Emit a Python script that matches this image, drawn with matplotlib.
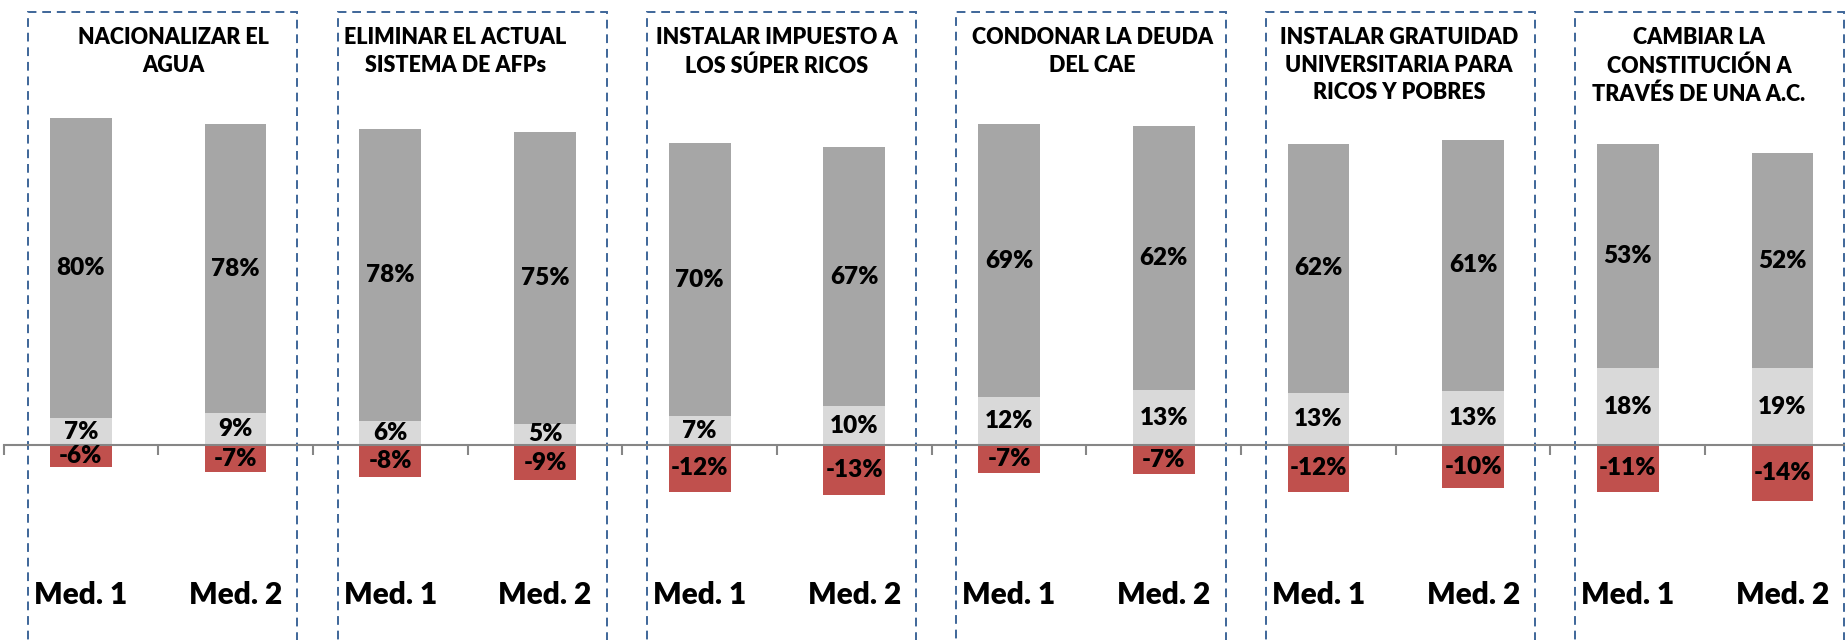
import matplotlib.pyplot as plt
from matplotlib.patches import Rectangle
import numpy as np

plt.rcParams['font.family'] = ['Lato', 'DejaVu Sans']

temas = ["NACIONALIZAR EL\nAGUA",
         "ELIMINAR EL ACTUAL\nSISTEMA DE AFPs",
         "INSTALAR IMPUESTO A\nLOS SÚPER RICOS",
         "CONDONAR LA DEUDA\nDEL CAE",
         "INSTALAR GRATUIDAD\nUNIVERSITARIA PARA\nRICOS Y POBRES",
         "CAMBIAR LA\nCONSTITUCIÓN A\nTRAVÉS DE UNA A.C."]
mediciones = ["Med. 1", "Med. 2"]

# valores mostrados en las etiquetas
acuerdo = [80, 78, 78, 75, 70, 67, 69, 62, 62, 61, 53, 52]
neutral = [7, 9, 6, 5, 7, 10, 12, 13, 13, 13, 18, 19]
desacuerdo = [-6, -7, -8, -9, -12, -13, -7, -7, -12, -10, -11, -14]

# alto de cada barra tal como se ve en el grafico original
acuerdo_alto = [80.0, 77.1, 77.9, 77.7, 72.8, 69.0, 72.8, 70.4, 66.4, 66.9, 59.8, 57.3]
neutral_alto = [7.1, 8.5, 6.4, 5.7, 7.7, 10.4, 12.7, 14.6, 13.9, 14.5, 20.5, 20.5]
desacuerdo_alto = [-5.8, -7.2, -8.4, -9.4, -12.4, -13.3, -7.4, -7.8, -12.4, -11.5, -12.5, -14.9]

c_acuerdo = "#a6a6a6"
c_neutral = "#d9d9d9"
c_desac = "#c0504d"
c_caja = "#3e6699"

W, H = 1845, 640
fig = plt.figure(figsize=(W / 100, H / 100), dpi=100)
ax = fig.add_axes([3.5 / W, 0, 12 * 154.7 / W, 1])

x = np.arange(len(acuerdo))
ancho = 0.4
ax.bar(x, neutral_alto, ancho, color=c_neutral, edgecolor="none")
ax.bar(x, acuerdo_alto, ancho, bottom=neutral_alto, color=c_acuerdo, edgecolor="none")
ax.bar(x, desacuerdo_alto, ancho, color=c_desac, edgecolor="none")

fs = 17.5
for i in x:
    ax.text(i, neutral_alto[i] + acuerdo_alto[i] / 2, f"{acuerdo[i]}%",
            ha="center", va="center", fontsize=fs, fontweight="heavy")
    ax.text(i, neutral_alto[i] / 2, f"{neutral[i]}%",
            ha="center", va="center", fontsize=fs, fontweight="heavy")
    ax.text(i, desacuerdo_alto[i] / 2, f"{desacuerdo[i]}%",
            ha="center", va="center", fontsize=fs, fontweight="heavy")
    ax.text(i, -40, mediciones[i % 2], ha="center", va="center",
            fontsize=21.5, fontweight="heavy")

# cajas punteadas y titulos de cada grupo
dx_titulo = [0.1, -0.08, 0.0, 0.04, 0.02, -0.04]
for g, tema in enumerate(temas):
    cx = 2 * g + 0.5
    ax.add_patch(Rectangle((cx - 0.84, -70), 1.74, 185.5, fill=False,
                           edgecolor=c_caja, linewidth=1.4, linestyle=(0, (4.5, 3)),
                           clip_on=False))
    ax.text(cx + dx_titulo[g], 111.4, tema, ha="center", va="top",
            fontsize=15.5, fontweight="heavy", linespacing=1.38)

ax.set_xlim(-0.5, 11.5)
ax.set_ylim(-52, 118.7)
ax.spines[["top", "right", "left"]].set_visible(False)
ax.spines["bottom"].set_position(("data", 0))
ax.spines["bottom"].set_color("#868686")
ax.spines["bottom"].set_linewidth(1.5)
ax.set_xticks(np.arange(-0.5, 12, 1))
ax.set_xticklabels([])
ax.tick_params(axis="x", direction="out", length=7, width=1.5, color="#868686")
ax.set_yticks([])

fig.savefig("out.png", dpi=100)
